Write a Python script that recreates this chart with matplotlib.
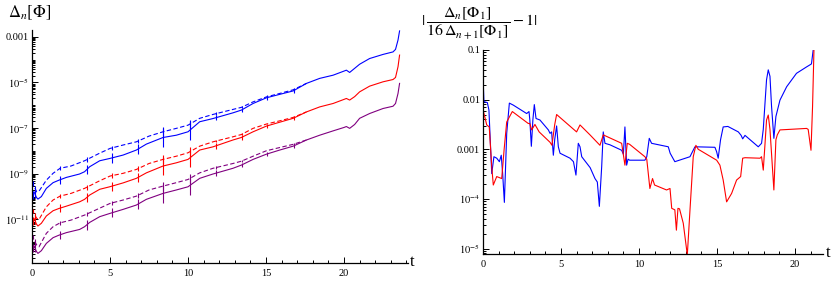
"""
Two-panel log plot: Delta_n[Phi] vs t (left) and the ratio test (right).
Output: out.png (834x281)
"""
import numpy as np
import matplotlib
matplotlib.use("Agg")
import matplotlib.pyplot as plt
from matplotlib.ticker import FixedLocator, NullFormatter, FixedFormatter

plt.rcParams.update({
    "font.family": ["Liberation Serif", "DejaVu Serif"],
    "mathtext.fontset": "stix",
    "font.size": 7.5,
})

# ---- left panel: log10 of Delta_n[Phi] ----
t_solid = [0, 0.13, 0.28, 0.38, 0.6, 0.92, 1.35, 1.73, 2.2, 3.05, 3.37, 3.7, 4.34, 4.98,
           5.84, 6.69, 7.33, 8.4, 9.25, 10.0, 10.75, 11.6, 12.88, 13.42, 14.17, 15.03,
           15.88, 16.74, 17.59, 18.44, 19.3, 20.0, 20.15, 20.36, 20.68, 21.0, 21.64,
           22.5, 23.14, 23.3, 23.46, 23.56]
blue_solid = [-10.01, -9.79, -10.03, -10.11, -10.0, -9.64, -9.39, -9.28, -9.16, -9.01,
              -8.91, -8.69, -8.43, -8.33, -8.18, -7.96, -7.70, -7.41, -7.31, -7.16,
              -6.72, -6.58, -6.33, -6.21, -5.92, -5.67, -5.52, -5.37, -5.04, -4.82,
              -4.68, -4.5, -4.46, -4.56, -4.38, -4.2, -3.95, -3.77, -3.66, -3.55,
              -3.14, -2.74]
red_solid = [-11.15, -10.95, -11.2, -11.29, -11.17, -10.85, -10.62, -10.52, -10.42,
             -10.23, -10.12, -9.93, -9.68, -9.57, -9.4, -9.2, -8.96, -8.66, -8.52,
             -8.37, -7.96, -7.82, -7.52, -7.41, -7.16, -6.91, -6.74, -6.57, -6.29,
             -6.07, -5.92, -5.74, -5.7, -5.77, -5.62, -5.41, -5.16, -4.97, -4.87,
             -4.78, -4.31, -3.8]
purple_solid = [-12.34, -12.15, -12.4, -12.49, -12.37, -12.05, -11.8, -11.69, -11.58,
                -11.44, -11.32, -11.13, -10.88, -10.74, -10.56, -10.37, -10.12, -9.86,
                -9.71, -9.57, -9.2, -9.01, -8.76, -8.62, -8.37, -8.14, -7.96, -7.79,
                -7.52, -7.31, -7.12, -6.97, -6.93, -7.01, -6.84, -6.57, -6.36, -6.14,
                -6.04, -5.92, -5.48, -5.04]

t_dashed = [0, 0.13, 0.3, 0.45, 0.92, 1.35, 1.8, 2.5, 3.37, 4.3, 5.0, 5.84, 6.69, 7.5,
            8.4, 9.25, 10.0, 10.75, 11.6, 12.88, 13.42, 14.17, 15.03, 15.88, 16.74, 17.59]
blue_dashed = [-9.35, -9.55, -9.79, -9.76, -9.28, -8.98, -8.76, -8.66, -8.43, -8.11,
               -7.89, -7.74, -7.6, -7.35, -7.16, -7.01, -6.87, -6.57, -6.4, -6.18,
               -6.09, -5.85, -5.63, -5.48, -5.32, -5.04]
red_dashed = [-10.56, -10.75, -10.95, -11.0, -10.45, -10.15, -9.98, -9.86, -9.64, -9.32,
              -9.1, -8.98, -8.81, -8.55, -8.37, -8.23, -8.08, -7.79, -7.6, -7.38,
              -7.28, -7.01, -6.82, -6.68, -6.53, -6.29]
purple_dashed = [-11.69, -11.9, -12.12, -12.2, -11.61, -11.32, -11.15, -11.03, -10.81,
                 -10.52, -10.3, -10.15, -9.98, -9.71, -9.54, -9.39, -9.25, -8.96, -8.76,
                 -8.55, -8.45, -8.23, -7.99, -7.85, -7.71, -7.52]

# glitches (short vertical jumps) seen on the curves, half-height in decades
spike_t = [0.05, 0.18, 1.8, 3.5, 5.1, 6.8, 8.4, 10.1, 11.8, 13.45, 15.05, 16.8]
spike_h = [0.18, 0.18, 0.18, 0.2, 0.2, 0.2, 0.4, 0.4, 0.12, 0.1, 0.1, 0.1]

# ---- right panel: log10 |D_n/(16 D_{n+1}) - 1| ----
t_blue_r = [0.0, 0.06, 0.28, 0.38, 0.56, 0.7, 0.88, 1.05, 1.17, 1.26, 1.37, 1.52, 1.69,
            1.94, 2.8, 2.95, 3.0, 3.1, 3.2, 3.29, 3.4, 3.65, 4.19, 4.3, 4.4, 4.51, 4.6,
            4.72, 4.83, 4.94, 5.58, 5.8, 5.96, 6.11, 6.22, 6.33, 6.87, 7.18, 7.33, 7.46,
            7.61, 7.71, 7.82, 8.14, 8.89, 9.0, 9.1, 9.21, 9.3, 9.4, 10.38, 10.5, 10.66,
            10.81, 11.88, 12.0, 12.3, 13.27, 13.59, 14.87, 14.98, 15.08, 15.23, 15.4,
            15.7, 16.37, 16.55, 16.65, 16.8, 17.65, 17.86, 17.97, 18.18, 18.29, 18.4,
            18.5, 18.65, 18.78, 19.04, 19.47, 20.1, 20.75, 20.96, 21.06, 21.17]
blue_r = [-1.54, -2.04, -2.06, -2.21, -3.49, -3.15, -3.18, -3.25, -3.12, -3.49, -4.07,
          -2.68, -2.07, -2.11, -2.28, -2.24, -2.40, -2.94, -2.40, -2.10, -2.38, -2.41,
          -2.61, -2.68, -2.65, -3.12, -2.8, -2.53, -2.95, -3.08, -3.18, -3.25, -3.52,
          -2.88, -2.95, -3.15, -3.37, -3.59, -3.66, -4.15, -3.35, -2.65, -2.88, -2.91,
          -3.02, -3.1, -2.55, -3.32, -3.2, -3.22, -3.22, -3.15, -2.78, -2.88, -2.95,
          -3.08, -3.25, -3.15, -2.95, -2.96, -3.05, -3.18, -2.81, -2.55, -2.54, -2.65,
          -2.72, -2.79, -2.72, -2.95, -2.88, -2.6, -1.6, -1.40, -1.53, -2.13, -2.78,
          -2.34, -2.01, -1.74, -1.47, -1.34, -1.30, -1.28, -1.0]

t_red_r = [0.0, 0.24, 0.4, 0.56, 0.66, 0.88, 1.2, 1.35, 1.52, 1.88, 2.9, 3.0, 3.12, 3.33,
           3.6, 4.3, 4.42, 4.6, 4.72, 6.0, 6.22, 6.86, 7.5, 7.71, 8.89, 9.1, 9.25, 9.4,
           10.38, 10.5, 10.7, 10.87, 11.0, 11.77, 11.99, 12.1, 12.3, 12.4, 12.5, 12.6,
           12.84, 13.1, 13.27, 13.48, 13.65, 13.8, 14.98, 15.19, 15.4, 15.62, 15.94,
           16.26, 16.52, 16.65, 16.8, 17.76, 17.86, 17.97, 18.08, 18.18, 18.29, 18.4,
           18.65, 18.78, 18.87, 19.04, 20.75, 20.85, 21.03, 21.13, 21.22]
red_r = [-2.2, -2.51, -2.55, -3.35, -3.72, -3.55, -3.59, -3.02, -2.45, -2.24, -2.48,
         -2.48, -2.61, -2.5, -2.65, -2.86, -2.92, -2.5, -2.3, -2.65, -2.51, -2.71, -2.92,
         -2.71, -2.88, -3.32, -2.88, -2.9, -3.15, -3.2, -3.79, -3.59, -3.72, -3.82, -3.79,
         -4.19, -4.22, -4.63, -4.19, -4.2, -4.49, -5.13, -4.23, -3.15, -2.92, -3.0, -3.22,
         -3.32, -3.62, -4.06, -3.89, -3.62, -3.55, -3.18, -3.17, -3.18, -3.15, -3.42,
         -2.9, -2.41, -2.31, -2.6, -3.82, -2.81, -2.71, -2.61, -2.58, -2.6, -3.02, -2.14,
         -1.0]

BLUE = "#0000ff"
RED = "#ff0000"
PURPLE = "#800080"

W, H = 834, 281
fig = plt.figure(figsize=(W / 100, H / 100), dpi=100)


def px_axes(x0, y0, x1, y1):
    # axes box from pixel corners (top-left origin)
    return fig.add_axes([x0 / W, 1 - y1 / H, (x1 - x0) / W, (y1 - y0) / H])


def style_axes(ax):
    for s in ("top", "right"):
        ax.spines[s].set_visible(False)
    for s in ("left", "bottom"):
        ax.spines[s].set_linewidth(0.9)
    ax.tick_params(which="both", direction="in", width=0.7, pad=2, labelsize=7.5)
    ax.tick_params(which="major", length=4)
    ax.tick_params(which="minor", length=2)
    ax.tick_params(axis="x", pad=4)
    ax.set_xticks([0, 5, 10, 15, 20])
    ax.xaxis.set_minor_locator(FixedLocator(np.arange(0, 25, 1)))


def log_minor(lo, hi):
    ticks = []
    for e in range(lo, hi + 1):
        for m in range(1, 10):
            ticks.append(m * 10.0 ** e)
    return ticks


# ---------------- left ----------------
ax1 = px_axes(32, 30, 408, 263)
ax1.set_yscale("log")
lw = 0.8
for logs, col in [(blue_solid, BLUE), (red_solid, RED), (purple_solid, PURPLE)]:
    vals = 10 ** np.array(logs)
    ax1.plot(t_solid, vals, color=col, lw=lw)
    c = 10 ** np.interp(spike_t, t_solid, logs)
    h = 10 ** np.array(spike_h)
    ax1.vlines(spike_t, c / h, c * h, color=col, lw=lw)
for logs, col in [(blue_dashed, BLUE), (red_dashed, RED), (purple_dashed, PURPLE)]:
    vals = 10 ** np.array(logs)
    ax1.plot(t_dashed, vals, color=col, lw=lw, dashes=(4.0, 2.2))
    c = 10 ** np.interp(spike_t[:-2], t_dashed, logs)
    h = 10 ** (0.5 * np.array(spike_h[:-2]))
    ax1.vlines(spike_t[:-2], c / h, c * h, color=col, lw=lw)

style_axes(ax1)
ax1.set_xlim(0, 24.1)
ax1.set_ylim(10 ** -12.91, 10 ** -2.7)
ax1.yaxis.set_major_locator(FixedLocator([1e-3, 1e-5, 1e-7, 1e-9, 1e-11]))
ax1.yaxis.set_major_formatter(FixedFormatter(
    ["0.001", r"$10^{-5}$", r"$10^{-7}$", r"$10^{-9}$", r"$10^{-11}$"]))
ax1.yaxis.set_minor_locator(FixedLocator(log_minor(-13, -3)))
ax1.yaxis.set_minor_formatter(NullFormatter())

# ---------------- right ----------------
ax2 = px_axes(483, 50, 823, 254)
ax2.set_yscale("log")
ax2.plot(t_blue_r, 10 ** np.array(blue_r), color=BLUE, lw=lw)
ax2.plot(t_red_r, 10 ** np.array(red_r), color=RED, lw=lw)
style_axes(ax2)
ax2.set_xlim(0, 21.8)
ax2.set_ylim(10 ** -5.11, 0.1)
ax2.yaxis.set_major_locator(FixedLocator([1e-1, 1e-2, 1e-3, 1e-4, 1e-5]))
ax2.yaxis.set_major_formatter(FixedFormatter(
    ["0.1", "0.01", "0.001", r"$10^{-4}$", r"$10^{-5}$"]))
ax2.yaxis.set_minor_locator(FixedLocator(log_minor(-6, -2)))
ax2.yaxis.set_minor_formatter(NullFormatter())

# axis labels, Mathematica style
fig.text(8 / W, 1 - 13 / H, r"$\Delta_n[\Phi]$", fontsize=12, ha="left", va="center")
fig.text(410 / W, 1 - 262 / H, "t", fontsize=12, ha="left", va="center")
fig.text(826 / W, 1 - 253 / H, "t", fontsize=12, ha="left", va="center")
fig.text(421 / W, 1 - 23 / H,
         r"$|\,\dfrac{\Delta_n[\Phi_1]}{16\,\Delta_{n+1}[\Phi_1]}-1|$",
         fontsize=11.5, ha="left", va="center")

fig.savefig("out.png", dpi=100)
